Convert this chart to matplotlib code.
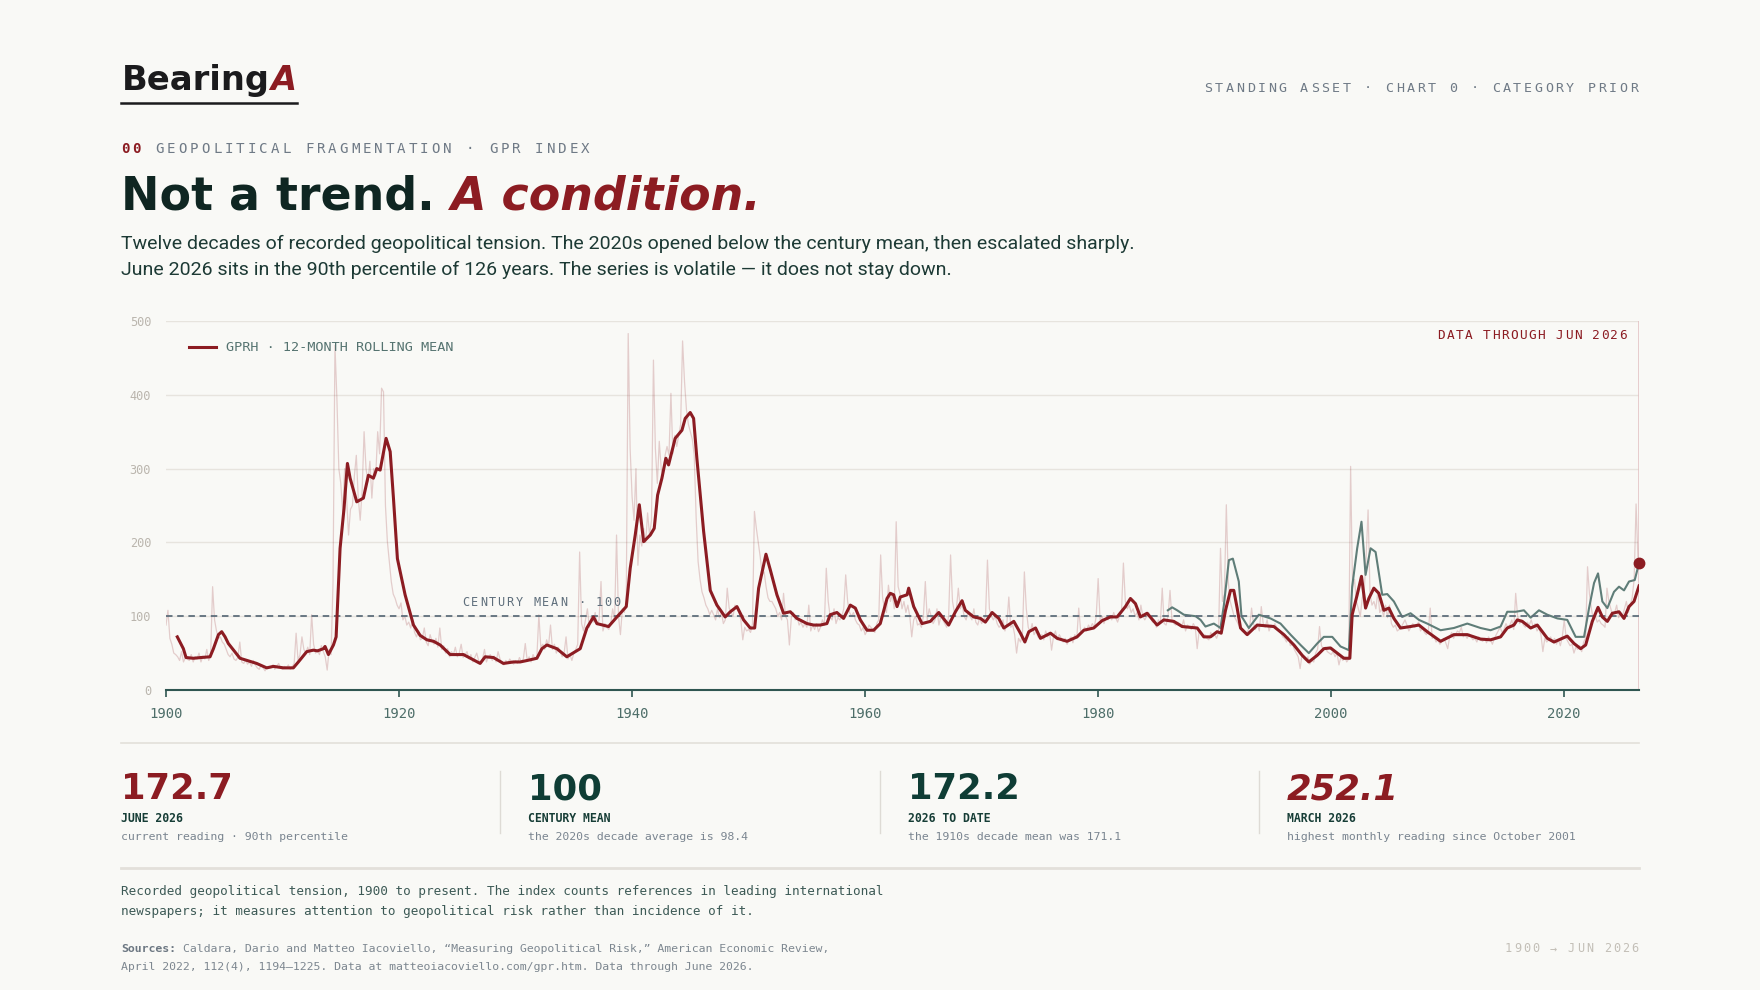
import numpy as np
import matplotlib
matplotlib.use("Agg")
import matplotlib.pyplot as plt
import matplotlib.transforms as mtransforms
from matplotlib.lines import Line2D

# canvas / palette
W, H = 1760, 990
BG = "#f9f9f6"
RED = "#8c1c22"
INK = "#0f2622"
TEAL = "#0f3d35"
SLATE = "#6f7a86"
MONO = "DejaVu Sans Mono"
SANS = "Roboto"
DISPLAY = "DejaVu Sans"

# GPRH, every two months (Jan, Mar, May, Jul, Sep, Nov)
GPRH_START = 1900
GPRH_RAW = [
    88, 108, 70, 62, 50, 48,      # 1900
    45, 40, 52, 38, 44, 42,
    40, 48, 38, 45, 42, 50,
    38, 46, 42, 55, 40, 48,
    140, 95, 80, 70, 72, 65,
    62, 55, 48, 45, 50, 42,
    40, 44, 65, 38, 36, 40,
    35, 38, 32, 40, 34, 30,
    28, 34, 30, 26, 32, 30,
    30, 34, 28, 32, 36, 30,
    28, 32, 30, 34, 28, 32,       # 1910
    36, 77, 40, 48, 72, 55,
    50, 58, 48, 102, 62, 50,
    55, 48, 60, 52, 45, 27,
    55, 48, 145, 467, 395, 300,
    280, 240, 300, 260, 210, 245,
    250, 290, 318, 260, 230, 270,
    350, 300, 282, 310, 260, 300,
    290, 350, 320, 409, 404, 250,
    201, 174, 147, 130, 124, 115,
    110, 118, 95, 100, 88, 92,    # 1920
    84, 95, 78, 72, 80, 68,
    70, 84, 65, 60, 75, 66,
    62, 70, 58, 84, 55, 60,
    50, 56, 45, 52, 48, 58,
    45, 50, 62, 44, 48, 52,
    42, 48, 38, 44, 50, 40,
    36, 42, 55, 38, 45, 48,
    40, 46, 38, 52, 42, 36,
    34, 40, 36, 42, 38, 35,
    40, 36, 44, 38, 42, 63,       # 1930
    40, 45, 38, 48, 42, 46,
    102, 58, 62, 55, 68, 60,
    88, 55, 62, 50, 58, 52,
    45, 50, 72, 42, 48, 40,
    50, 55, 62, 187, 90, 80,
    95, 110, 85, 100, 92, 105,
    88, 95, 147, 80, 90, 85,
    82, 90, 110, 95, 210, 100,
    75, 110, 105, 120, 483, 327,
    262, 230, 300, 169, 210, 195,  # 1940
    219, 200, 240, 210, 230, 447,
    327, 280, 337, 300, 290, 318,
    330, 318, 402, 320, 345, 330,
    345, 360, 473, 418, 380, 360,
    350, 340, 318, 233, 174, 150,
    133, 125, 115, 110, 102, 108,
    102, 95, 110, 98, 105, 90,
    95, 138, 111, 105, 100, 115,
    110, 105, 95, 68, 85, 80,
    82, 78, 90, 242, 219, 200,    # 1950
    180, 156, 160, 140, 125, 120,
    120, 115, 110, 100, 105, 95,
    131, 100, 95, 61, 98, 105,
    95, 100, 88, 92, 85, 90,
    85, 115, 80, 88, 82, 90,
    79, 85, 95, 88, 165, 120,
    100, 95, 110, 90, 98, 95,
    100, 110, 156, 120, 105, 100,
    105, 95, 90, 88, 80, 85,
    75, 80, 88, 85, 82, 78,       # 1960
    90, 95, 183, 125, 110, 105,
    142, 120, 130, 110, 228, 140,
    130, 110, 120, 105, 115, 100,
    72, 95, 100, 88, 90, 85,
    100, 147, 95, 110, 100, 90,
    95, 110, 88, 100, 95, 90,
    85, 100, 183, 120, 105, 110,
    138, 110, 115, 100, 95, 105,
    100, 95, 110, 92, 88, 98,
    90, 95, 100, 176, 110, 100,   # 1970
    95, 100, 90, 85, 88, 95,
    80, 90, 126, 85, 88, 75,
    50, 70, 65, 75, 160, 110,
    85, 78, 90, 75, 80, 72,
    70, 75, 68, 80, 72, 78,
    54, 72, 80, 68, 75, 70,
    65, 70, 62, 68, 72, 64,
    75, 70, 111, 80, 78, 85,
    80, 88, 84, 90, 85, 100,
    151, 95, 100, 90, 98, 95,     # 1980
    100, 95, 105, 98, 92, 100,
    105, 172, 120, 110, 115, 105,
    110, 100, 105, 95, 115, 100,
    95, 100, 105, 98, 92, 95,
    85, 95, 90, 138, 90, 88,
    100, 135, 95, 90, 88, 92,
    90, 85, 95, 80, 88, 85,
    82, 90, 85, 56, 80, 78,
    72, 75, 70, 68, 78, 72,
    75, 70, 78, 192, 120, 130,    # 1990
    251, 147, 120, 110, 100, 95,
    90, 85, 80, 78, 75, 80,
    85, 111, 90, 82, 88, 80,
    113, 90, 85, 95, 80, 88,
    85, 90, 84, 80, 78, 72,
    70, 65, 72, 60, 62, 55,
    50, 45, 29, 48, 42, 40,
    45, 35, 40, 38, 50, 55,
    86, 60, 55, 58, 52, 50,
    48, 52, 45, 50, 34, 45,       # 2000
    40, 45, 38, 42, 303, 138,
    150, 120, 110, 100, 125, 135,
    180, 244, 130, 115, 120, 110,
    133, 105, 110, 100, 115, 98,
    115, 90, 85, 88, 80, 82,
    85, 90, 95, 88, 80, 85,
    90, 85, 88, 92, 80, 84,
    78, 75, 80, 111, 70, 72,
    65, 68, 62, 66, 70, 64,
    56, 72, 78, 70, 75, 80,       # 2010
    78, 85, 72, 75, 70, 76,
    72, 68, 70, 65, 72, 68,
    66, 70, 64, 72, 68, 62,
    70, 75, 80, 85, 78, 82,
    90, 85, 88, 95, 82, 131,
    100, 90, 95, 88, 85, 92,
    88, 95, 85, 90, 80, 84,
    75, 52, 70, 65, 68, 72,
    65, 70, 62, 68, 60, 72,
    95, 70, 65, 60, 62, 50,       # 2020
    58, 55, 60, 52, 65, 70,
    167, 130, 110, 95, 100, 92,
    95, 90, 88, 85, 138, 120,
    110, 100, 105, 115, 98, 105,
    100, 110, 120, 105, 115, 125,
    150, 252.1, 175,              # 2026
]
LAST_DATE = 2026 + 5 / 12
LAST_VALUE = 172.7

# GPRH 12-month rolling mean
RM_YEAR = [
    1900.97, 1901.49, 1901.72, 1902.35, 1903.0, 1903.78, 1904.07, 1904.5, 1904.78, 1905.07,
    1905.35, 1906.35, 1907.78, 1908.64, 1909.22, 1910.08, 1910.93, 1911.36, 1912.08, 1912.65,
    1913.0, 1913.51, 1913.65, 1913.94, 1914.37, 1914.6, 1914.94, 1915.28, 1915.57, 1915.8,
    1916.37, 1916.94, 1917.37, 1917.8, 1918.09, 1918.38, 1918.89, 1919.24, 1919.52, 1919.86,
    1920.52, 1921.24, 1921.81, 1922.39, 1922.96, 1923.53, 1924.39, 1925.53, 1926.96, 1927.39,
    1928.1, 1928.96, 1929.82, 1930.39, 1931.0, 1931.83, 1932.26, 1932.69, 1933.54, 1934.4,
    1935.55, 1936.12, 1936.69, 1936.98, 1937.98, 1938.7, 1939.5, 1939.84, 1940.27, 1940.62,
    1940.99, 1941.56, 1941.9, 1942.19, 1942.56, 1942.9, 1943.13, 1943.7, 1944.28, 1944.56,
    1944.99, 1945.28, 1945.56, 1946.14, 1946.71, 1947.28, 1947.99, 1948.43, 1949.0, 1949.57,
    1950.14, 1950.52, 1950.86, 1951.49, 1951.86, 1952.43, 1953.0, 1953.58, 1954.15, 1955.01,
    1955.58, 1956.15, 1956.72, 1957.0, 1957.58, 1958.15, 1958.73, 1959.16, 1959.59, 1960.16,
    1960.73, 1961.3, 1961.88, 1962.16, 1962.45, 1962.74, 1963.02, 1963.6, 1963.74, 1964.17,
    1964.88, 1965.6, 1966.32, 1967.17, 1967.75, 1968.32, 1968.6, 1969.32, 1969.9, 1970.32,
    1970.9, 1971.47, 1971.9, 1972.76, 1973.33, 1973.71, 1974.05, 1974.63, 1975.05, 1975.91,
    1976.48, 1977.33, 1978.19, 1978.77, 1979.62, 1980.34, 1981.05, 1981.63, 1982.34, 1982.77,
    1983.2, 1983.63, 1984.2, 1985.06, 1985.63, 1986.49, 1987.21, 1988.5, 1989.07, 1989.64,
    1990.21, 1990.56, 1990.93, 1991.36, 1991.64, 1991.93, 1992.22, 1992.79, 1993.65, 1995.08,
    1995.94, 1996.8, 1997.51, 1998.08, 1998.8, 1999.37, 1999.94, 2000.52, 2001.09, 2001.6,
    2001.8, 2002.23, 2002.6, 2002.95, 2003.23, 2003.66, 2004.09, 2004.52, 2004.95, 2005.38,
    2005.95, 2006.81, 2007.53, 2008.24, 2009.39, 2010.53, 2011.68, 2012.82, 2013.68, 2014.54,
    2015.11, 2015.68, 2015.97, 2016.4, 2017.12, 2017.69, 2018.55, 2019.12, 2020.26, 2020.84,
    2021.41, 2021.84, 2022.41, 2022.9, 2023.27, 2023.7, 2024.13, 2024.7, 2025.13, 2025.56,
    2025.99, 2026.42,
]
RM_VALUE = [
    72, 56, 44, 43, 44, 45, 56, 75, 79, 72,
    63, 43, 36, 30, 32, 30, 30, 38, 52, 54,
    53, 56, 59, 48, 61, 72, 192, 246, 307, 287,
    255, 260, 291, 287, 300, 298, 341, 323, 260, 178,
    129, 88, 74, 68, 66, 61, 48, 48, 36, 45,
    44, 36, 38, 38, 40, 43, 56, 61, 56, 45,
    56, 84, 99, 90, 86, 99, 113, 165, 210, 251,
    201, 210, 219, 264, 287, 314, 305, 341, 352, 368,
    376, 368, 314, 215, 135, 115, 99, 106, 113, 95,
    84, 84, 138, 184, 163, 129, 104, 106, 97, 90,
    88, 88, 90, 102, 105, 97, 115, 111, 95, 81,
    81, 90, 124, 131, 129, 113, 126, 129, 138, 113,
    90, 93, 105, 88, 106, 121, 108, 99, 97, 92,
    105, 97, 84, 93, 77, 65, 79, 84, 70, 77,
    70, 66, 72, 81, 84, 94, 99, 99, 113, 124,
    117, 99, 104, 88, 95, 93, 86, 84, 72, 72,
    79, 77, 108, 135, 135, 111, 84, 75, 88, 86,
    75, 61, 47, 38, 47, 56, 57, 50, 43, 43,
    102, 129, 154, 111, 124, 138, 131, 108, 111, 97,
    84, 86, 88, 79, 66, 75, 75, 69, 68, 72,
    84, 88, 95, 93, 84, 88, 70, 65, 73, 63,
    56, 61, 93, 112, 99, 93, 104, 106, 97, 113,
    120, 141,
]

# recent GPR 12-month rolling mean (grey line)
GPR_YEAR = [
    1985.98, 1986.35, 1986.78, 1987.36, 1988.36, 1988.79, 1989.21, 1989.93, 1990.5, 1990.79,
    1991.22, 1991.56, 1992.07, 1992.3, 1992.93, 1993.79, 1994.79, 1995.65, 1996.51, 1997.37,
    1998.08, 1998.8, 1999.37, 2000.09, 2000.8, 2001.52, 2001.8, 2002.23, 2002.6, 2002.95,
    2003.38, 2003.81, 2004.38, 2004.81, 2005.38, 2006.09, 2006.81, 2007.53, 2008.24, 2009.39,
    2010.53, 2011.68, 2012.82, 2013.68, 2014.54, 2015.11, 2015.83, 2016.54, 2017.12, 2017.83,
    2018.55, 2019.41, 2020.26, 2020.98, 2021.7, 2022.13, 2022.56, 2022.9, 2023.27, 2023.7,
    2024.27, 2024.7, 2025.13, 2025.56, 2026.05, 2026.42,
]
GPR_VALUE = [
    108, 112, 108, 102, 100, 95, 86, 90, 84, 115,
    176, 178, 147, 100, 84, 102, 97, 90, 75, 61,
    50, 63, 72, 72, 59, 54, 140, 192, 228, 156,
    192, 187, 129, 130, 120, 99, 104, 95, 90, 81,
    84, 90, 84, 81, 86, 106, 106, 108, 98, 108,
    102, 97, 95, 72, 72, 111, 145, 158, 120, 111,
    133, 140, 135, 147, 149, 172,
]

CENTURY_MEAN = 100
X_TICKS = [1900, 1920, 1940, 1960, 1980, 2000, 2020]
Y_TICKS = [0, 100, 200, 300, 400, 500]

STAT_VALUES = ["172.7", "100", "172.2", "252.1"]
STAT_LABELS = ["JUNE 2026", "CENTURY MEAN", "2026 TO DATE", "MARCH 2026"]
STAT_NOTES = [
    "current reading · 90th percentile",
    "the 2020s decade average is 98.4",
    "the 1910s decade mean was 171.1",
    "highest monthly reading since October 2001",
]


fig = plt.figure(figsize=(W / 100, H / 100), dpi=100, facecolor=BG)


def fx(x):
    return x / W


def fy(y):
    return 1 - y / H


def spaced(x, y, s, size, color, pitch, ha="left", weight="normal",
           transform=None, dy=0):
    # monospace text with letter spacing, one glyph at a time
    adv = 0.602 * size * 100 / 72
    total = (len(s) - 1) * pitch + adv
    start = 0 if ha == "left" else -total
    base = fig.transFigure if transform is None else transform
    for i, ch in enumerate(s):
        if ch == " ":
            continue
        tr = mtransforms.offset_copy(base, fig=fig, x=start + i * pitch + adv / 2,
                                     y=dy, units="dots")
        fig.text(x, y, ch, transform=tr, ha="center", va="center", fontsize=size,
                 color=color, family=MONO, fontweight=weight)


def hline(x0, x1, y, color, lw):
    fig.add_artist(Line2D([fx(x0), fx(x1)], [fy(y), fy(y)], color=color, lw=lw))


def vline(x, y0, y1, color, lw):
    fig.add_artist(Line2D([fx(x), fx(x)], [fy(y0), fy(y1)], color=color, lw=lw))


renderer = fig.canvas.get_renderer()


def right_edge(t):
    return t.get_window_extent(renderer=renderer).x1


# ---- header
logo = fig.text(fx(122), fy(90), "Bearing", fontsize=24.3, fontweight="bold",
                color="#1b1b1d", family=DISPLAY, va="baseline")
logo_a = fig.text(right_edge(logo) / W, fy(90), "A", fontsize=24.3, fontweight="bold",
                  style="italic", color=RED, family=DISPLAY, va="baseline")
hline(121, right_edge(logo_a) + 1, 102.5, "#1b1b1d", 1.8)

spaced(fx(1638), fy(88), "STANDING ASSET · CHART 0 · CATEGORY PRIOR", 9.6, SLATE,
       10.64, ha="right")
spaced(fx(121), fy(149), "00", 10.2, RED, 11.5, weight="bold")
spaced(fx(121 + 3 * 11.5), fy(149), "GEOPOLITICAL FRAGMENTATION · GPR INDEX",
       10.2, SLATE, 11.5)

t1 = fig.text(fx(121), fy(210), "Not a trend. ", fontsize=33, fontweight="bold",
              color=INK, family=DISPLAY, va="baseline")
fig.text(right_edge(t1) / W, fy(210), "A condition.", fontsize=33,
         fontweight="bold", style="italic", color=RED, family=DISPLAY, va="baseline")

fig.text(fx(121), fy(249),
         "Twelve decades of recorded geopolitical tension. The 2020s opened below "
         "the century mean, then escalated sharply.",
         fontsize=14.0, color="#1d3a35", family=SANS, va="baseline")
fig.text(fx(121), fy(275),
         "June 2026 sits in the 90th percentile of 126 years. The series is "
         "volatile \u2014 it does not stay down.",
         fontsize=14.0, color="#1d3a35", family=SANS, va="baseline")

# ---- chart
ax = fig.add_axes([fx(166), fy(690), (1639 - 166) / W, (690 - 321) / H])
ax.set_facecolor(BG)

raw_x = GPRH_START + np.arange(len(GPRH_RAW)) / 6
raw_x = np.append(raw_x, LAST_DATE)
raw_y = np.append(GPRH_RAW, LAST_VALUE)

ax.plot(raw_x, raw_y, color=RED, alpha=0.2, lw=0.9, zorder=2)
ax.plot(GPR_YEAR, GPR_VALUE, color="#5f7d78", lw=1.5, zorder=3)
ax.plot(RM_YEAR, RM_VALUE, color=RED, lw=2.2, zorder=4,
        label="GPRH · 12-MONTH ROLLING MEAN")
ax.plot([LAST_DATE], [LAST_VALUE], "o", ms=7.5, color=RED, zorder=6, clip_on=False)

ax.axhline(CENTURY_MEAN, color="#5e6e7b", lw=1.3, dashes=(3.6, 2.6), zorder=3)
ax.axvline(LAST_DATE, color="#e2bfc1", lw=1.8, zorder=1)

ax.set_xlim(1900, LAST_DATE)
ax.set_ylim(0, 500)
ax.set_xticks(X_TICKS)
ax.set_yticks(Y_TICKS)
ax.yaxis.grid(True, color="#e7e4de", lw=1.0, zorder=0)
ax.set_axisbelow(True)
for side in ["top", "right", "left"]:
    ax.spines[side].set_visible(False)
ax.spines["bottom"].set_color("#2f5651")
ax.spines["bottom"].set_linewidth(1.5)
ax.tick_params(axis="x", direction="out", length=4.8, width=1.2, color="#2f5651",
               labelsize=10, labelcolor="#4e6e69", pad=7.5)
ax.tick_params(axis="y", length=0, labelsize=8.6, labelcolor="#bab5ad", pad=10.8)
for lab in ax.get_xticklabels() + ax.get_yticklabels():
    lab.set_fontfamily(MONO)

leg = ax.legend(loc="upper left", bbox_to_anchor=(0.0156, 0.945), frameon=False,
                borderpad=0, borderaxespad=0, handlelength=2.0, handletextpad=0.75,
                prop={"family": MONO, "size": 9.7})
for txt in leg.get_texts():
    txt.set_color("#557370")

spaced(1925.4, CENTURY_MEAN, "CENTURY MEAN · 100", 8.6, "#5f6f7c", 8.9,
       transform=ax.transData, dy=14)
spaced(fx(1627), fy(335), "DATA THROUGH JUN 2026", 9.2, RED, 9.1, ha="right")

# ---- stats row
hline(121, 1639, 743, "#e3e0da", 1.2)
cols = [121, 528, 908, 1287]
num_colors = [RED, TEAL, TEAL, RED]
num_styles = ["normal", "normal", "normal", "italic"]
for i, x in enumerate(cols):
    fig.text(fx(x), fy(799), STAT_VALUES[i], fontsize=25.5, fontweight="bold",
             style=num_styles[i], color=num_colors[i], family=DISPLAY, va="baseline")
    fig.text(fx(x), fy(819), STAT_LABELS[i], fontsize=8.3, fontweight="bold",
             color="#163d36", family=MONO, va="center")
    fig.text(fx(x), fy(837), STAT_NOTES[i], fontsize=8.25, color="#7a8590",
             family=MONO, va="center")
for x in [500, 880, 1259]:
    vline(x, 771, 833, "#dedbd5", 1.0)
hline(121, 1639, 868, "#e3e0da", 2.0)

# ---- notes
fig.text(fx(121), fy(891),
         "Recorded geopolitical tension, 1900 to present. The index counts "
         "references in leading international",
         fontsize=9.05, color="#3d5a56", family=MONO, va="center")
fig.text(fx(121), fy(911),
         "newspapers; it measures attention to geopolitical risk rather than "
         "incidence of it.",
         fontsize=9.05, color="#3d5a56", family=MONO, va="center")

adv_s = 0.602 * 8.25 * 100 / 72
fig.text(fx(121), fy(949), "Sources:", fontsize=8.25, fontweight="bold",
         color="#6c7782", family=MONO, va="center")
fig.text(fx(121 + 9 * adv_s), fy(949),
         "Caldara, Dario and Matteo Iacoviello, \u201cMeasuring Geopolitical "
         "Risk,\u201d American Economic Review,",
         fontsize=8.25, color="#7d8790", family=MONO, va="center")
fig.text(fx(121), fy(967),
         "April 2022, 112(4), 1194\u20131225. Data at matteoiacoviello.com/gpr.htm. "
         "Data through June 2026.",
         fontsize=8.25, color="#7d8790", family=MONO, va="center")
spaced(fx(1638), fy(949), "1900 \u2192 JUN 2026", 8.6, "#c3bfb7", 9.0, ha="right")

fig.savefig("out.png", dpi=100, facecolor=BG)
